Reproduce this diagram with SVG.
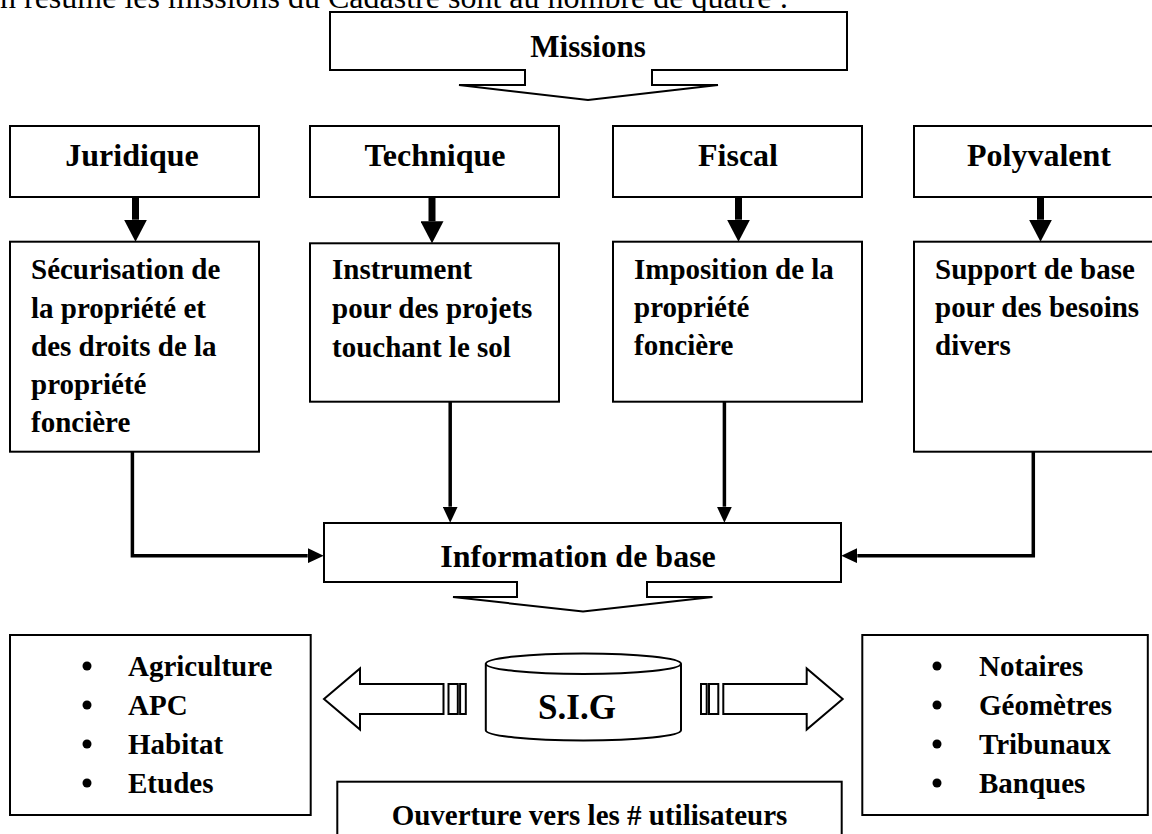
<svg xmlns="http://www.w3.org/2000/svg" width="1152" height="834" viewBox="0 0 1152 834">
<defs>
<style>
.box{fill:#fff;stroke:#000;stroke-width:2}
.call{fill:#fff;stroke:#000;stroke-width:2;stroke-linejoin:miter}
.t{font-family:"Liberation Serif","Times New Roman",serif;font-weight:bold;fill:#000}
.h{font-size:32px;text-anchor:middle}
.s{font-size:29px}
.conn{fill:none;stroke:#000;stroke-width:3.5}
.thick{fill:none;stroke:#000;stroke-width:7}
.bul{fill:#000}
</style>
<marker id="ah" markerUnits="userSpaceOnUse" markerWidth="16" markerHeight="15" refX="0" refY="7.5" orient="auto">
<path d="M0,0 L16,7.5 L0,15 Z" fill="#000"/>
</marker>
<marker id="big" markerUnits="userSpaceOnUse" markerWidth="22" markerHeight="23" refX="0" refY="11.5" orient="auto">
<path d="M0,0 L22,11.5 L0,23 Z" fill="#000"/>
</marker>
</defs>
<rect width="1152" height="834" fill="#fff"/>
<text x="0" y="8" style="font-family:'Liberation Serif','Times New Roman',serif;font-size:32px;fill:#000">n résume les missions du Cadastre sont au nombre de quatre :</text>

<g id="missions">
<path class="call" d="M330,12 H847 V70 H652 V85 H718 L588,100 L459,85 H525 V70 H330 Z"/>
<text class="t h" x="588" y="57" style="font-size:31px">Missions</text>
</g>

<g id="juridique">
<rect class="box" x="10" y="126" width="249" height="71"/>
<text class="t h" x="132" y="166">Juridique</text>
</g>
<g id="technique">
<rect class="box" x="310" y="126" width="249" height="71"/>
<text class="t h" x="435" y="166">Technique</text>
</g>
<g id="fiscal">
<rect class="box" x="613" y="126" width="249" height="71"/>
<text class="t h" x="738" y="166">Fiscal</text>
</g>
<g id="polyvalent">
<rect class="box" x="914" y="126" width="249" height="71"/>
<text class="t h" x="1039" y="166">Polyvalent</text>
</g>

<g id="securisation">
<rect class="box" x="10" y="241.7" width="249" height="210"/>
<text class="t s" x="31" y="279">Sécurisation de</text>
<text class="t s" x="31" y="317.5">la propriété et</text>
<text class="t s" x="31" y="356">des droits de la</text>
<text class="t s" x="31" y="394">propriété</text>
<text class="t s" x="31" y="432">foncière</text>
</g>
<g id="instrument">
<rect class="box" x="310" y="243.3" width="249" height="158.4"/>
<text class="t s" x="332" y="279">Instrument</text>
<text class="t s" x="332" y="318">pour des projets</text>
<text class="t s" x="332" y="356.5">touchant le sol</text>
</g>
<g id="imposition">
<rect class="box" x="613" y="241.7" width="249" height="160"/>
<text class="t s" x="634" y="279">Imposition de la</text>
<text class="t s" x="634" y="317">propriété</text>
<text class="t s" x="634" y="355">foncière</text>
</g>
<g id="support">
<rect class="box" x="914" y="241.7" width="249" height="210"/>
<text class="t s" x="935" y="279">Support de base</text>
<text class="t s" x="935" y="317">pour des besoins</text>
<text class="t s" x="935" y="355">divers</text>
</g>

<g id="information">
<path class="call" d="M324,523 H841 V582 H647 V597 H712.5 L583,611.5 L453,597 H517 V582 H324 Z"/>
<text class="t h" x="578" y="567">Information de base</text>
</g>

<g id="sig">
<path class="box" d="M485.8,663.7 V730.3 A97.6,10.3 0 0 0 681,730.3 V663.7"/>
<ellipse class="box" cx="583.4" cy="663.7" rx="97.6" ry="10.3"/>
<text class="t" x="577" y="719" style="font-size:35px;text-anchor:middle">S.I.G</text>
</g>

<g id="list-left">
<rect class="box" x="10" y="635" width="300.7" height="180"/>
<circle class="bul" cx="87" cy="666" r="4.5"/>
<circle class="bul" cx="87" cy="705" r="4.5"/>
<circle class="bul" cx="87" cy="744" r="4.5"/>
<circle class="bul" cx="87" cy="783" r="4.5"/>
<text class="t s" x="128" y="676">Agriculture</text>
<text class="t s" x="128" y="715">APC</text>
<text class="t s" x="128" y="754">Habitat</text>
<text class="t s" x="128" y="793">Etudes</text>
</g>

<g id="list-right">
<rect class="box" x="862.3" y="635" width="285.5" height="180"/>
<circle class="bul" cx="937" cy="666" r="4.5"/>
<circle class="bul" cx="937" cy="705" r="4.5"/>
<circle class="bul" cx="937" cy="744" r="4.5"/>
<circle class="bul" cx="937" cy="783" r="4.5"/>
<text class="t s" x="979" y="676">Notaires</text>
<text class="t s" x="979" y="715">Géomètres</text>
<text class="t s" x="979" y="754">Tribunaux</text>
<text class="t s" x="979" y="793">Banques</text>
</g>

<g id="ouverture">
<rect class="box" x="337.3" y="781.7" width="504.4" height="70"/>
<text class="t" x="589.5" y="825" style="font-size:29px;text-anchor:middle">Ouverture vers les # utilisateurs</text>
</g>

<g id="connectors">
<line class="thick" x1="135.5" y1="197" x2="135.5" y2="219.7" marker-end="url(#big)"/>
<line class="thick" x1="432" y1="197" x2="432" y2="221.3" marker-end="url(#big)"/>
<line class="thick" x1="738.5" y1="197" x2="738.5" y2="219.7" marker-end="url(#big)"/>
<line class="thick" x1="1040.5" y1="197" x2="1040.5" y2="219.7" marker-end="url(#big)"/>
<polyline class="conn" points="132.4,451.7 132.4,555.7 307.7,555.7" marker-end="url(#ah)"/>
<line class="conn" x1="450.2" y1="401.7" x2="450.2" y2="506.7" marker-end="url(#ah)"/>
<line class="conn" x1="724.4" y1="401.7" x2="724.4" y2="506.7" marker-end="url(#ah)"/>
<polyline class="conn" points="1033.3,451.7 1033.3,555.7 857.3,555.7" marker-end="url(#ah)"/>
<path class="call" d="M443.5,684 H360 V668.5 L324,699 L360,729.5 V714 H443.5 Z"/>
<rect class="call" x="448.5" y="684" width="9.3" height="30"/>
<rect class="call" x="460.1" y="684" width="5.7" height="30"/>
<path class="call" d="M723.3,684 H806.7 V668.5 L842.7,699 L806.7,729.5 V714 H723.3 Z"/>
<rect class="call" x="709" y="684" width="9.3" height="30"/>
<rect class="call" x="701" y="684" width="5.7" height="30"/>
</g>
</svg>
